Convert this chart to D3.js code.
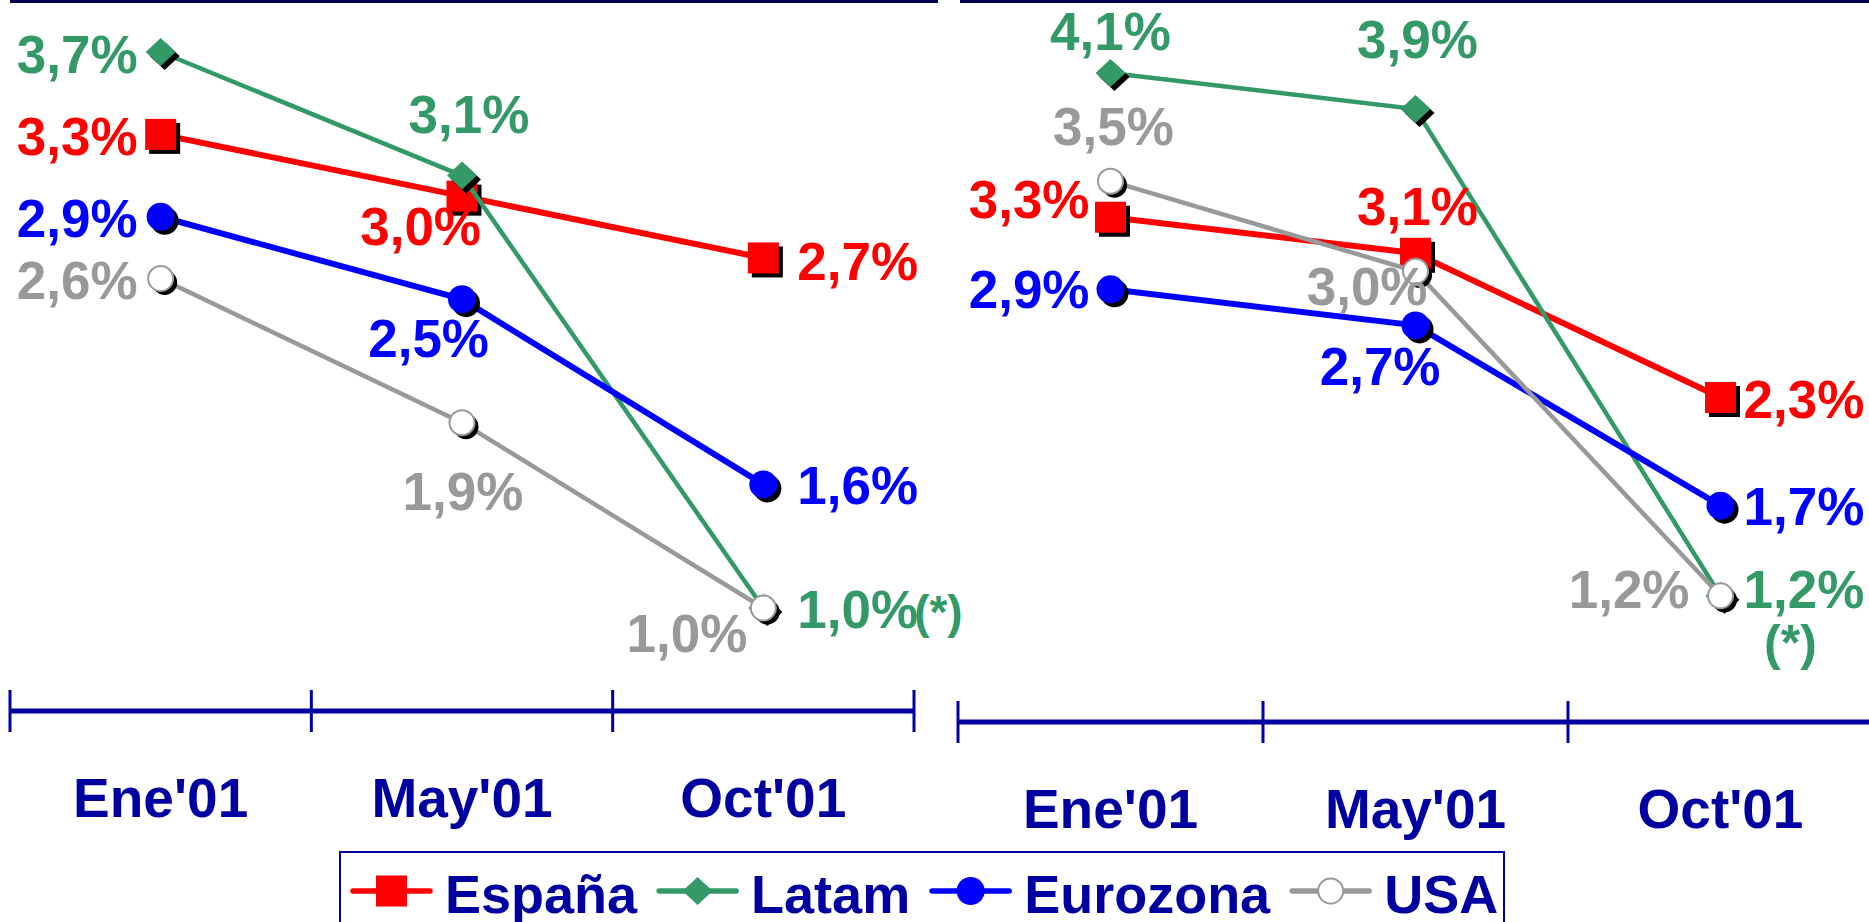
<!DOCTYPE html>
<html>
<head>
<meta charset="utf-8">
<script src="https://cdnjs.cloudflare.com/ajax/libs/d3/7.8.5/d3.min.js"></script>
<style>
	body { margin: 0; background: #ffffff; }
	svg text { font-family: "Liberation Sans", Arial, sans-serif; font-weight: bold; }
</style>
</head>
<body>
<script>
var svg;
var Width = 1869;
var Height = 922;

// data
var categories = ["Ene'01", "May'01", "Oct'01"];
var seriesNames = ["España", "Latam", "Eurozona", "USA"];

var leftEspana = [3.3, 3.0, 2.7];
var leftLatam = [3.7, 3.1, 1.0];
var leftEurozona = [2.9, 2.5, 1.6];
var leftUSA = [2.6, 1.9, 1.0];

var rightEspana = [3.3, 3.1, 2.3];
var rightLatam = [4.1, 3.9, 1.2];
var rightEurozona = [2.9, 2.7, 1.7];
var rightUSA = [3.5, 3.0, 1.2];

var footnoteMark = "(*)";

// look of each series
var seriesColor = { "España": "#ff0000", "Latam": "#339966", "Eurozona": "#0000ff", "USA": "#999999" };
var seriesMarker = { "España": "square", "Latam": "diamond", "Eurozona": "circle", "USA": "open" };
var seriesWidth = { "España": 6, "Latam": 4.5, "Eurozona": 6, "USA": 4.5 };

var axisColor = "#0000a0";

// where each data label sits relative to its point: [anchor, dx, dy]
var leftPlacement = {
	"España": [["end", -23, 21], ["end", 19, 49], ["start", 34, 22]],
	"Latam": [["end", -23, 21], ["middle", 7, -43], ["start", 34, 20]],
	"Eurozona": [["end", -23, 20], ["end", 27, 58], ["start", 34, 20]],
	"USA": [["end", -23, 20], ["middle", 1, 87], ["end", -16, 44]]
};
var rightPlacement = {
	"España": [["end", -21, 1], ["middle", 2, -28], ["start", 23, 20]],
	"Latam": [["middle", 0, -23], ["middle", 2, -51], ["start", 23, 12]],
	"Eurozona": [["end", -21, 19], ["end", 25, 60], ["start", 23, 19]],
	"USA": [["middle", 3, -36], ["end", 12, 34], ["end", -31, 12]]
};

function fmt(v) {
	return d3.format(".1f")(v).replace(".", ",") + "%";
}

function markerShape(g, type, cx, cy, fill, stroke) {
	if (type == "square") {
		g.append("rect").attr("x", cx - 15.5).attr("y", cy - 15.5)
			.attr("width", 31).attr("height", 31).attr("fill", fill);
	} else if (type == "diamond") {
		g.append("path")
			.attr("d", "M" + cx + "," + (cy - 14) + "L" + (cx + 15) + "," + cy + "L" + cx + "," + (cy + 14) + "L" + (cx - 15) + "," + cy + "Z")
			.attr("fill", fill);
	} else if (type == "circle") {
		g.append("circle").attr("cx", cx).attr("cy", cy).attr("r", 14).attr("fill", fill);
	} else {
		g.append("circle").attr("cx", cx).attr("cy", cy).attr("r", 12.5)
			.attr("fill", fill).attr("stroke", stroke).attr("stroke-width", stroke ? 2 : 0);
	}
}

function drawPanel(p) {
	var x = d3.scaleBand().domain(categories).range(p.xRange).paddingInner(0).paddingOuter(0);
	var y = d3.scaleLinear().domain(p.yDomain).range(p.yRange);
	var cx = function (c) { return x(c) + x.bandwidth() / 2; };
	var g = svg.append("g");

	// rule at the top
	g.append("line")
		.attr("x1", p.topRule[0]).attr("x2", p.topRule[1])
		.attr("y1", 1.5).attr("y2", 1.5)
		.attr("stroke", "#000050").attr("stroke-width", 3);

	// category axis, ticks between categories
	var axisY = y(p.yDomain[0]);
	g.append("line")
		.attr("x1", p.xRange[0]).attr("x2", p.xRange[1])
		.attr("y1", axisY).attr("y2", axisY)
		.attr("stroke", axisColor).attr("stroke-width", 5);

	var bounds = d3.range(categories.length + 1).map(function (i) { return p.xRange[0] + i * x.step(); });
	g.selectAll(".tick")
		.data(bounds)
		.enter()
		.append("line")
		.attr("x1", function (d) { return d; })
		.attr("x2", function (d) { return d; })
		.attr("y1", axisY - 21).attr("y2", axisY + 21)
		.attr("stroke", axisColor).attr("stroke-width", 3);

	g.selectAll(".cat")
		.data(categories)
		.enter()
		.append("text")
		.attr("x", cx)
		.attr("y", axisY + 106)
		.attr("text-anchor", "middle")
		.attr("fill", axisColor)
		.attr("font-size", 55)
		.text(function (d) { return d; });

	var line = d3.line()
		.x(function (d, i) { return cx(categories[i]); })
		.y(function (d) { return y(d); });

	seriesNames.forEach(function (name, s) {
		var values = p.series[s];
		g.append("path")
			.attr("d", line(values))
			.attr("fill", "none")
			.attr("stroke", seriesColor[name])
			.attr("stroke-width", seriesWidth[name]);

		values.forEach(function (v, i) {
			var mx = cx(categories[i]), my = y(v);
			var m = g.append("g");
			markerShape(m, seriesMarker[name], mx + 4, my + 4, "#000000", null);
			markerShape(m, seriesMarker[name], mx, my,
				seriesMarker[name] == "open" ? "#ffffff" : seriesColor[name], seriesColor[name]);
		});
	});

	// data labels on top
	seriesNames.forEach(function (name, s) {
		var values = p.series[s];
		values.forEach(function (v, i) {
			var pl = p.placement[name][i];
			var t = g.append("text")
				.attr("x", cx(categories[i]) + pl[1])
				.attr("y", y(v) + pl[2])
				.attr("text-anchor", pl[0])
				.attr("fill", seriesColor[name])
				.attr("font-size", 53)
				.text(fmt(v));
			if (name == "Latam" && i == values.length - 1) {
				if (p.noteInline) {
					t.append("tspan").attr("dx", -4).attr("font-size", 46).text(footnoteMark);
				} else {
					g.append("text")
						.attr("x", cx(categories[i]) + 70)
						.attr("y", y(v) + 64)
						.attr("text-anchor", "middle")
						.attr("fill", seriesColor[name])
						.attr("font-size", 50)
						.text(footnoteMark);
				}
			}
		});
	});
}

function drawLegend() {
	var g = svg.append("g");
	g.append("rect")
		.attr("x", 340).attr("y", 852)
		.attr("width", 1164).attr("height", 110)
		.attr("fill", "#ffffff")
		.attr("stroke", axisColor).attr("stroke-width", 2);

	var xPos = 353;
	var ly = 891;
	seriesNames.forEach(function (name) {
		g.append("line")
			.attr("x1", xPos).attr("x2", xPos + 77)
			.attr("y1", ly).attr("y2", ly)
			.attr("stroke", seriesColor[name]).attr("stroke-width", 5.5)
			.attr("stroke-linecap", "round");
		markerShape(g, seriesMarker[name], xPos + 38.5, ly,
			seriesMarker[name] == "open" ? "#ffffff" : seriesColor[name], seriesColor[name]);
		var t = g.append("text")
			.attr("x", xPos + 92)
			.attr("y", 913)
			.attr("fill", axisColor)
			.attr("font-size", 54)
			.text(name);
		xPos = xPos + 92 + t.node().getComputedTextLength() + 22;
	});
}

function display() {
	svg = d3.select("body").append("svg")
		.attr("width", Width)
		.attr("height", Height);

	drawPanel({
		xRange: [10, 914],
		yDomain: [0.5, 3.7],
		yRange: [711, 52],
		topRule: [10, 938],
		series: [leftEspana, leftLatam, leftEurozona, leftUSA],
		placement: leftPlacement,
		noteInline: true
	});

	drawPanel({
		xRange: [958, 1873],
		yDomain: [0.5, 4.1],
		yRange: [722, 73],
		topRule: [960, 1869],
		series: [rightEspana, rightLatam, rightEurozona, rightUSA],
		placement: rightPlacement,
		noteInline: false
	});

	drawLegend();
}

display();
</script>
</body>
</html>
